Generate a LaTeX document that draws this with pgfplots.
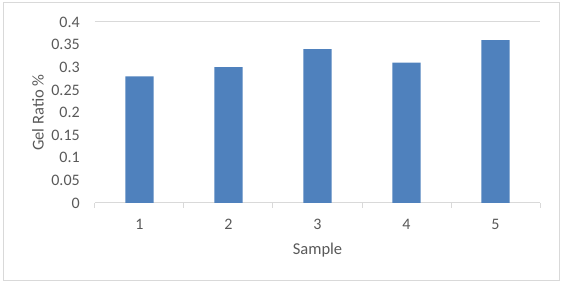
\documentclass[border=0pt]{standalone}
\usepackage{pgfplots}
\pgfplotsset{compat=1.18}
\usepackage{fontspec}
\setmainfont{Carlito}
\definecolor{barblue}{HTML}{4F81BD}
\definecolor{txtgray}{HTML}{595959}
\definecolor{linegray}{HTML}{D9D9D9}
\begin{document}
\begin{tikzpicture}
\path (-71.25pt,-61.5pt) rectangle (351.75pt,152.25pt);
\draw[linegray, line width=0.75pt] (-68.25pt,-58.5pt) rectangle (348pt,150pt);
\begin{axis}[
  at={(0,0)}, anchor=south west,
  scale only axis,
  width=333.75pt, height=135.75pt,
  xmin=0.5, xmax=5.5,
  ymin=0, ymax=0.4,
  ytick={0,0.05,...,0.4},
  xtick={1,2,3,4,5},
  minor xtick={0.5,1.5,2.5,3.5,4.5,5.5},
  major tick length=0pt,
  minor tick length=3.75pt,
  tick align=outside,
  tick pos=lower,
  minor tick style={linegray, line width=0.75pt},
  separate axis lines,
  axis line style={draw=none},
  x axis line style={draw=linegray, line width=0.75pt},
  y axis line style={draw=none},
  /pgf/number format/assume math mode=true,
  /pgf/number format/fixed,
  /pgf/number format/precision=2,
  font=\fontsize{12}{14}\selectfont,
  yticklabel style={txtgray, anchor=east, inner sep=0pt, xshift=-11.25pt},
  xticklabel style={txtgray, anchor=center, inner sep=0pt, yshift=-15.75pt},
  ylabel={Gel Ratio \%},
  xlabel={Sample},
  ylabel style={txtgray, at={(axis description cs:-0.128,0.5)}, anchor=center, font=\fontsize{12.4}{14}\selectfont},
  xlabel style={txtgray, at={(axis description cs:0.5,-0.26)}, anchor=center, font=\fontsize{12.4}{14}\selectfont},
  clip=false,
]
\addplot[ybar, bar width=0.315, fill=barblue, draw=none] coordinates {
  (1,0.28) (2,0.30) (3,0.34) (4,0.31) (5,0.36)
};
\end{axis}
\end{tikzpicture}
\end{document}
